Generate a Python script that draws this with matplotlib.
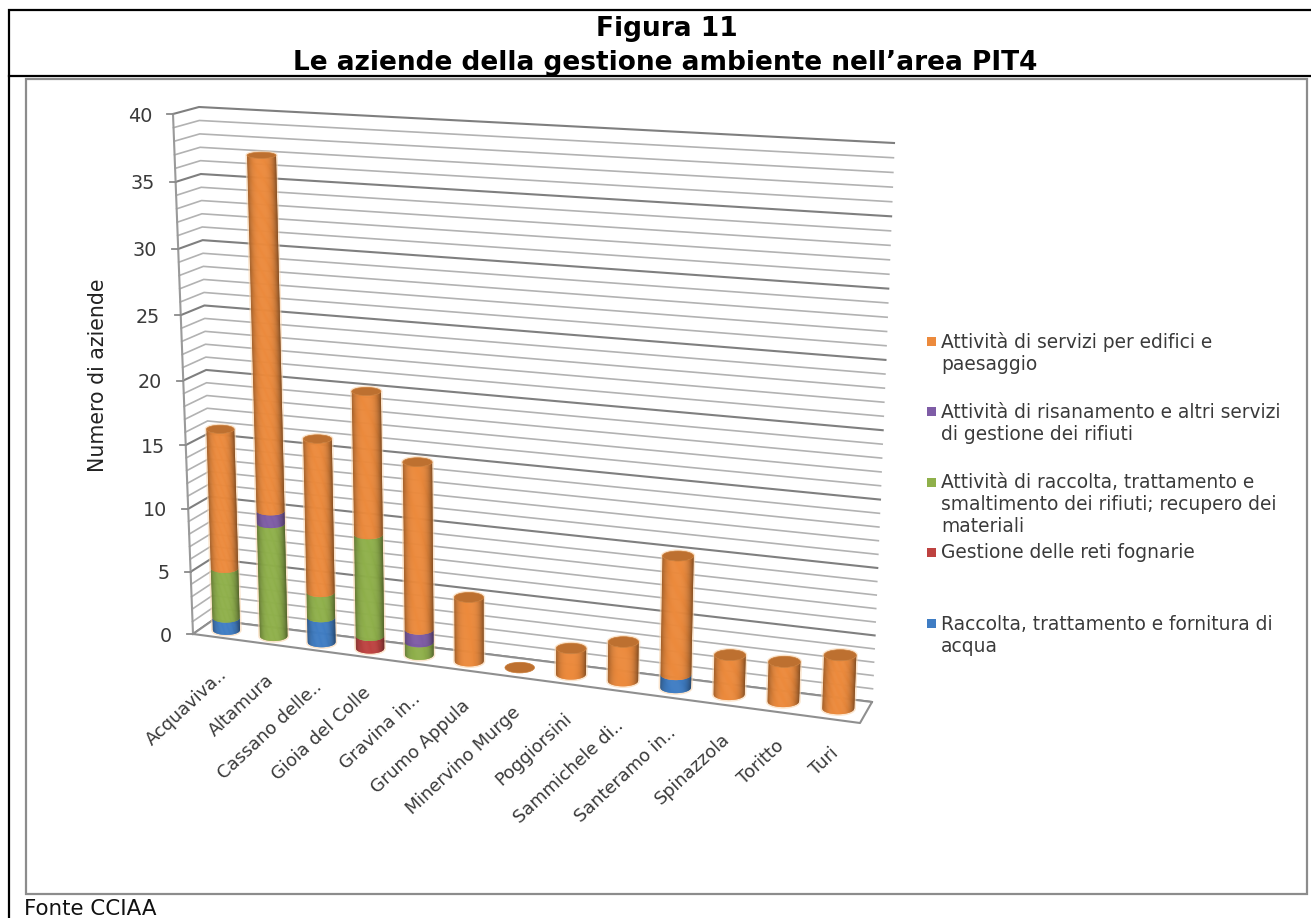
import numpy as np
import matplotlib
matplotlib.use("Agg")
import matplotlib.pyplot as plt
from matplotlib.colors import to_rgb
from matplotlib.patches import Ellipse, Polygon, Rectangle

# ---- data -------------------------------------------------------------
categories = ["Acquaviva..", "Altamura", "Cassano delle..", "Gioia del Colle",
              "Gravina in..", "Grumo Appula", "Minervino Murge", "Poggiorsini",
              "Sammichele di..", "Santeramo in..", "Spinazzola", "Toritto", "Turi"]
raccolta_acqua = [1, 0, 2, 0, 0, 0, 0, 0, 0, 1, 0, 0, 0]
reti_fognarie = [0, 0, 0, 1, 0, 0, 0, 0, 0, 0, 0, 0, 0]
raccolta_rifiuti = [4, 9, 2, 8, 1, 0, 0, 0, 0, 0, 0, 0, 0]
risanamento = [0, 1, 0, 0, 1, 0, 0, 0, 0, 0, 0, 0, 0]
servizi_edifici = [11, 27, 12, 11, 13, 5, 0, 2, 3, 9, 3, 3, 4]

series_names = ["Raccolta, trattamento e fornitura di\nacqua",
                "Gestione delle reti fognarie",
                "Attività di raccolta, trattamento e\nsmaltimento dei rifiuti; recupero dei\nmateriali",
                "Attività di risanamento e altri servizi\ndi gestione dei rifiuti",
                "Attività di servizi per edifici e\npaesaggio"]
z_ticks = [0, 5, 10, 15, 20, 25, 30, 35, 40]

# ---- styling ----------------------------------------------------------
series_values = [raccolta_acqua, reti_fognarie, raccolta_rifiuti, risanamento, servizi_edifici]
series_colors = ["#3F7DC4", "#BE4240", "#8FB04A", "#7E5CA6", "#EC8A3C"]
legend_y = [624, 553, 483, 412, 342]
TEXT = "#3a3a3a"
W, H = 1311, 918
Z_MAX = 40
N = len(categories)

fig = plt.figure(figsize=(W / 100, H / 100), dpi=100)
ax = fig.add_axes([0, 0, 1, 1])
ax.set_xlim(0, W)
ax.set_ylim(H, 0)
ax.axis("off")


def homography(c00, c10, c01, c11):
    """Projective map of the unit square onto four pixel corners (u, v)."""
    src = [(0, 0), (1, 0), (0, 1), (1, 1)]
    dst = [c00, c10, c01, c11]
    A, b = [], []
    for (u, v), (x, y) in zip(src, dst):
        A.append([u, v, 1, 0, 0, 0, -u * x, -v * x])
        A.append([0, 0, 0, u, v, 1, -u * y, -v * y])
        b += [x, y]
    h = np.append(np.linalg.solve(np.array(A, float), np.array(b, float)), 1).reshape(3, 3)

    def project(u, v):
        p = h @ np.array([u, v, 1.0])
        return p[:2] / p[2]
    return project


# Camera: the back wall and the plane holding the cylinders
back_wall = homography((213, 620), (872, 702), (199, 107), (894, 143))
column_plane = homography((203, 627), (866, 712), (186, 110), (888, 149))
FRONT_BOTTOM, FRONT_TOP = np.array([193.0, 634.0]), np.array([173.0, 114.0])
FLOOR_FRONT_RIGHT = np.array([860.0, 723.0])


def front_axis(v):
    """Point on the front vertical axis, spaced like the back wall's left edge."""
    p0, p1 = back_wall(0, 0), back_wall(0, 1)
    s = (back_wall(0, v)[1] - p0[1]) / (p1[1] - p0[1])
    return FRONT_BOTTOM + s * (FRONT_TOP - FRONT_BOTTOM)


def col_xy(i, z):
    return column_plane((i + 0.5) / N, z / Z_MAX)


# ---- page frame -------------------------------------------------------
ax.plot([W, 9, 9], [10, 10, H], color="black", lw=1.6, solid_joinstyle="miter")
ax.plot([9, W], [76, 76], color="black", lw=1.6)
ax.add_patch(Rectangle((25.5, 78.5), 1281, 815, fc="white", ec="#8c8c8c", lw=1.6))

ax.text(667, 29, "Figura 11", ha="center", va="center", fontsize=19,
        fontweight="bold", color="black")
ax.text(665, 63, "Le aziende della gestione ambiente nell\u2019area PIT4", ha="center", va="center",
        fontsize=19, fontweight="bold", color="black")
ax.text(24, 909, "Fonte CCIAA", ha="left", va="center", fontsize=15.4, color="#111111")

# ---- walls and gridlines ----------------------------------------------
for z in range(0, Z_MAX + 1):
    major = z % 5 == 0
    col, lw = ("#7f7f7f", 1.5) if major else ("#b2b2b2", 1.2)
    a, b, c = front_axis(z / Z_MAX), back_wall(0, z / Z_MAX), back_wall(1, z / Z_MAX)
    ax.plot([a[0], b[0], c[0]], [a[1], b[1], c[1]], color=col, lw=lw, zorder=1,
            solid_joinstyle="round")

# front axis with tick marks and labels
ax.plot([FRONT_BOTTOM[0], FRONT_TOP[0]], [FRONT_BOTTOM[1], FRONT_TOP[1]],
        color="#9a9a9a", lw=1.5, zorder=2)
for z in z_ticks:
    x, y = front_axis(z / Z_MAX)
    ax.plot([x - 6, x], [y, y], color="#8a8a8a", lw=1.3, zorder=2)
    ax.text(x - 21, y + 2, str(z), ha="right", va="center", fontsize=13.8, color=TEXT)

# floor outline
b0, b1 = back_wall(0, 0), back_wall(1, 0)
ax.add_patch(Polygon([FRONT_BOTTOM, FLOOR_FRONT_RIGHT, b1, b0], closed=True, fc="white",
                     ec="none", zorder=1.5))
ax.plot([b0[0], FRONT_BOTTOM[0], FLOOR_FRONT_RIGHT[0], b1[0], b0[0]],
        [b0[1], FRONT_BOTTOM[1], FLOOR_FRONT_RIGHT[1], b1[1], b0[1]],
        color="#8f8f8f", lw=1.5, zorder=2)


# ---- cylinders --------------------------------------------------------
def shade(color, t):
    """Horizontal lighting across the cylinder, t in [-1, 1]."""
    k = 0.62 + 0.38 * (1 - np.abs(t + 0.05) ** 3.2)
    return tuple(np.clip(np.array(to_rgb(color)) * k, 0, 1))


def half_width(i, z):
    return 0.29 * abs(col_xy(i + 0.5, z)[0] - col_xy(i - 0.5, z)[0])


def half_depth(a, z):
    return a * (0.36 - 0.004 * z)


def segment(i, z0, z1, color, order):
    p0, p1 = col_xy(i, z0), col_xy(i, z1)
    a0, a1 = half_width(i, z0), half_width(i, z1)
    d0, d1 = half_depth(a0, z0), half_depth(a1, z1)
    ts = np.linspace(-1, 1, 61)
    low = np.column_stack([p0[0] + a0 * ts, p0[1] + d0 * np.sqrt(1 - ts ** 2)])
    high = np.column_stack([p1[0] + a1 * ts, p1[1] + d1 * np.sqrt(1 - ts ** 2)])
    # Each slice reaches over its right neighbour, which then hides the seam
    for k in range(len(ts) - 1):
        end = min(k + 3, len(ts))
        verts = np.vstack([low[k:end], high[k:end][::-1]])
        ax.add_patch(Polygon(verts, closed=True, fc=shade(color, (ts[k] + ts[k + 1]) / 2),
                             ec="none", zorder=order))


def halo(i, z_top):
    p0, p1 = col_xy(i, 0), col_xy(i, z_top)
    a0, a1 = half_width(i, 0), half_width(i, z_top)
    d0, d1 = half_depth(a0, 0), half_depth(a1, z_top)
    ang = np.linspace(0, np.pi, 30)
    low = [(p0[0] + a0 * np.cos(q), p0[1] + d0 * np.sin(q)) for q in ang]
    high = [(p1[0] - a1 * np.cos(q), p1[1] - d1 * np.sin(q)) for q in ang]
    ax.add_patch(Polygon(low + high, closed=True, fc="none", ec="#F9D5AE", lw=2.4,
                         alpha=0.6, zorder=3))


tops = np.sum(series_values, axis=0)
for i in range(N):
    order = 4 + i * 0.1
    if tops[i] > 0:
        halo(i, tops[i])
    level = 0
    for vals, color in zip(series_values, series_colors):
        if vals[i] > 0:
            segment(i, level, level + vals[i], color, order)
            level += vals[i]
            order += 0.001
    # top cap, which is all that shows for an empty column
    cap = col_xy(i, level)
    a = half_width(i, level)
    ax.add_patch(Ellipse(cap, 2 * a, 2 * half_depth(a, level), fc="#BD7030", ec="#C97C38",
                         lw=0.5, zorder=order + 0.01))

# ---- category labels --------------------------------------------------
for i, name in enumerate(categories):
    x, y = col_xy(i, 0)
    ax.text(x - 2, y + 42, name, rotation=43, rotation_mode="anchor", ha="right", va="center",
            fontsize=12.8, color=TEXT, zorder=6)

ax.text(98, 375, "Numero di aziende", rotation=90, ha="center", va="center", fontsize=14.8,
        color="#222222")

# ---- legend -----------------------------------------------------------
for name, color, y in zip(series_names, series_colors, legend_y):
    ax.add_patch(Rectangle((927, y - 5), 9, 9, fc=color, ec="none"))
    for k, line in enumerate(name.split("\n")):
        ax.text(941, y + k * 22, line, ha="left", va="center", fontsize=13.4, color=TEXT)

fig.savefig("out.png", dpi=100, facecolor="white")
